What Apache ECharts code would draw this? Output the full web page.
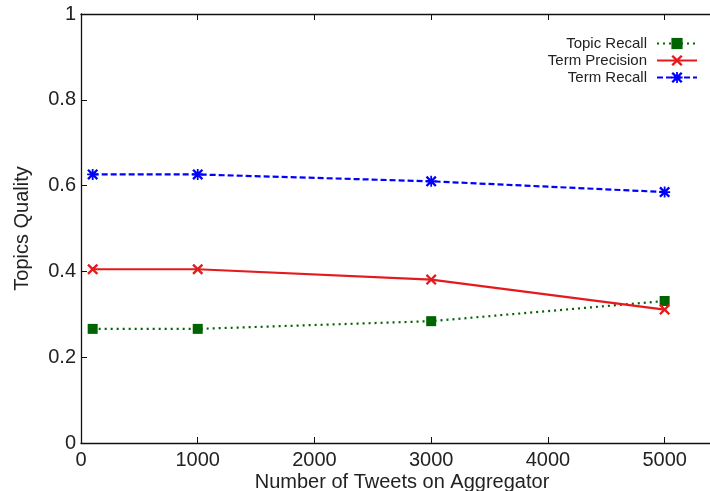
<!DOCTYPE html>
<html>
<head>
<meta charset="utf-8">
<script src="https://cdn.jsdelivr.net/npm/echarts@6/dist/echarts.min.js"></script>
<style>
html,body{margin:0;padding:0;background:#fff;overflow:hidden;}
#chart{width:710px;height:491px;}
</style>
</head>
<body>
<div id="chart"></div>
<script>
const xValues = [100, 1000, 3000, 5000];
const topicRecall = [0.266, 0.266, 0.284, 0.331];
const termPrecision = [0.405, 0.405, 0.381, 0.311];
const termRecall = [0.626, 0.626, 0.610, 0.585];
const seriesNames = ['Topic Recall', 'Term Precision', 'Term Recall'];
const xTitle = 'Number of Tweets on Aggregator';
const yTitle = 'Topics Quality';

const crossPath = 'path://M0,1.5 L1.5,0 L5,3.5 L8.5,0 L10,1.5 L6.5,5 L10,8.5 L8.5,10 L5,6.5 L1.5,10 L0,8.5 L3.5,5 Z';
const starPath = 'path://M0,1.5 L1.5,0 L5,3.5 L8.5,0 L10,1.5 L6.5,5 L10,8.5 L8.5,10 L5,6.5 L1.5,10 L0,8.5 L3.5,5 Z M4.2,0 L5.8,0 L5.8,10 L4.2,10 Z M0,4.2 L10,4.2 L10,5.8 L0,5.8 Z';

function pairs(ys){ return xValues.map((x,i)=>[x, ys[i]]); }

const FONT = 'Liberation Sans';
const chart = echarts.init(document.getElementById('chart'));
chart.setOption({
  animation: false,
  backgroundColor: '#fff',
  textStyle: {fontFamily: FONT},
  grid: {left: 81, top: 14, height: 429, width: 642, containLabel: false, outerBoundsMode: 'none'},
  legend: {
    orient: 'vertical', right: 7, top: 31, align: 'right',
    itemWidth: 40, itemHeight: 14, itemGap: 2,
    textStyle: {fontFamily: FONT, fontSize: 15, color: '#222', padding: [0, 5, 0, 0]},
    data: seriesNames
  },
  xAxis: [{
    type: 'value', min: 0, max: 5500, interval: 1000,
    name: xTitle, nameLocation: 'middle', nameGap: 29, nameMoveOverlap: false,
    nameTextStyle: {fontFamily: FONT, fontSize: 20, color: '#222'},
    axisLine: {show: true, lineStyle: {color: '#111', width: 1.3}},
    axisTick: {show: true, inside: true, length: 6, lineStyle: {color: '#111'}},
    axisLabel: {fontFamily: FONT, fontSize: 20, color: '#222', margin: 7, showMaxLabel: false,
      formatter: v => String(v)},
    splitLine: {show: false}
  }, {
    type: 'value', position: 'top', min: 0, max: 5500, interval: 1000,
    axisLine: {show: true, onZero: false, lineStyle: {color: '#111', width: 1.3}},
    axisTick: {show: true, inside: true, length: 6, lineStyle: {color: '#111'}},
    axisLabel: {show: false},
    splitLine: {show: false}
  }],
  yAxis: {
    type: 'value', min: 0, max: 1, interval: 0.2,
    name: yTitle, nameLocation: 'middle', nameGap: 49,
    nameTextStyle: {fontFamily: FONT, fontSize: 20, color: '#222'},
    axisLine: {show: true, lineStyle: {color: '#111', width: 1.3}},
    axisTick: {show: true, inside: true, length: 6, lineStyle: {color: '#111'}},
    axisLabel: {fontFamily: FONT, fontSize: 20, color: '#222', margin: 5},
    splitLine: {show: false}
  },
  series: [{
    name: seriesNames[0], type: 'line', data: pairs(topicRecall),
    symbol: 'rect', symbolSize: 10,
    itemStyle: {color: '#006400'},
    lineStyle: {color: '#006400', width: 2.2, type: [2, 4]}
  }, {
    name: seriesNames[1], type: 'line', data: pairs(termPrecision),
    symbol: crossPath, symbolSize: 11,
    itemStyle: {color: '#e41a1c'},
    lineStyle: {color: '#e41a1c', width: 2.2, type: 'solid'}
  }, {
    name: seriesNames[2], type: 'line', data: pairs(termRecall),
    symbol: starPath, symbolSize: 11,
    itemStyle: {color: '#0000ff'},
    lineStyle: {color: '#0000ff', width: 2.2, type: [6, 3]}
  }]
});
</script>
</body>
</html>
